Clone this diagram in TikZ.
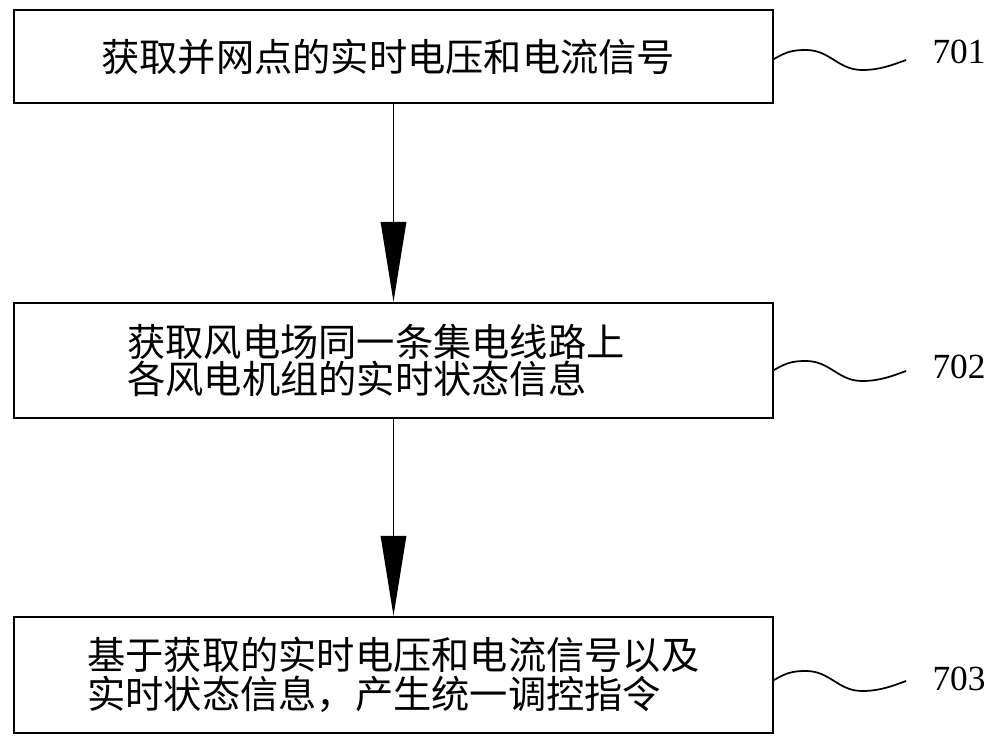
\documentclass[tikz,border=0pt]{standalone}
\usepackage{fontspec}
\setmainfont{Liberation Serif}
\newfontfamily\cjk{Noto Sans CJK SC}
\usetikzlibrary{arrows.meta}
\begin{document}
\begin{tikzpicture}[x=0.75pt,y=-0.75pt,
  stepbox/.style={draw,line width=1.6pt,rectangle,inner sep=0pt},
  steptext/.style={anchor=west,inner sep=0pt,align=left},
  cjkfont/.style={font=\cjk\fontsize{28.7}{26.5}\selectfont},
  flow/.style={line width=1.4pt,-{Triangle[length=60pt,width=19pt]}},
  wave/.style={line width=1.3pt},
  tag/.style={inner sep=0pt,font=\fontsize{26.5}{30}\selectfont}]
\fill[white] (0,0) rectangle (1000,748);
% boxes
\node[stepbox,minimum width=569.25pt,minimum height=69.75pt] (b1) at (393.5,56.5) {};
\node[stepbox,minimum width=569.25pt,minimum height=86.25pt] (b2) at (393.5,360.5) {};
\node[stepbox,minimum width=569.25pt,minimum height=87pt] (b3) at (393.5,675) {};
% texts
\node[steptext,cjkfont] (t1) at (101,57) {获取并网点的实时电压和电流信号};
\node[steptext,cjkfont] (t2) at (127,360) {获取风电场同一条集电线路上\\各风电机组的实时状态信息};
\node[steptext,font=\cjk\fontsize{28.7}{29.5}\selectfont] (t3) at (87,675) {基于获取的实时电压和电流信号以及\\实时状态信息，产生统一调控指令};
% arrows
\draw[flow] (b1.south) -- (b2.north);
\draw[flow] (b2.south) -- (b3.north);
% labels
\node[tag] (l1) at (959,52) {701};
\node[tag] (l2) at (959,367) {702};
\node[tag] (l3) at (959,679) {703};
% wavy leaders
\draw[wave] (b1.east |- 0,59) .. controls +(12,-7) and +(-14,0) .. ++(32,-9)
  .. controls +(24,0) and +(-24,0) .. ++(56,20)
  .. controls +(18,0) and +(-14,5) .. ++(44,-10);
\draw[wave] (b2.east |- 0,370) .. controls +(12,-7) and +(-14,0) .. ++(32,-9)
  .. controls +(24,0) and +(-24,0) .. ++(56,20)
  .. controls +(18,0) and +(-14,5) .. ++(44,-10);
\draw[wave] (b3.east |- 0,680) .. controls +(12,-7) and +(-14,0) .. ++(32,-9)
  .. controls +(24,0) and +(-24,0) .. ++(56,20)
  .. controls +(18,0) and +(-14,5) .. ++(44,-10);
\end{tikzpicture}
\end{document}
